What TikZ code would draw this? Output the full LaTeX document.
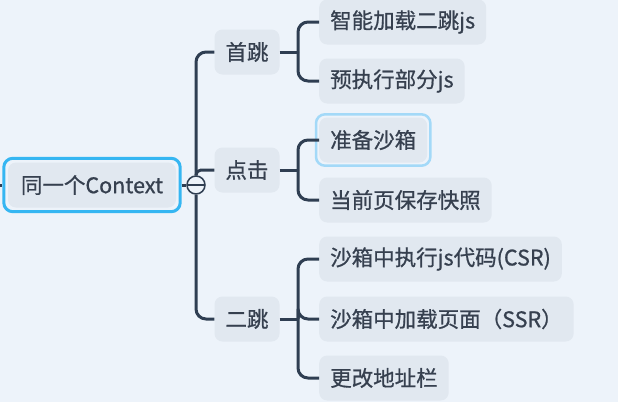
\documentclass[tikz,border=0pt]{standalone}
\usepackage{fontspec}
\setmainfont[FakeBold=0.8]{Noto Sans CJK SC}
\usepackage{tikz}
\usetikzlibrary{positioning,fit}
\definecolor{bgcol}{HTML}{EDF3FA}
\definecolor{boxcol}{HTML}{E1E8F0}
\definecolor{linecol}{HTML}{2F3E52}
\definecolor{txtcol}{HTML}{36404F}
\definecolor{ringcol}{HTML}{35B6F2}
\definecolor{softring}{HTML}{A3D9F8}
\tikzstyle{topic}=[fill=boxcol, text=txtcol, rounded corners=8pt, minimum height=45pt, inner xsep=11pt, font=\fontsize{21.5}{25}\selectfont]
\tikzstyle{subtopic}=[topic, anchor=west]
\tikzstyle{ring}=[draw=ringcol, line width=3pt, rounded corners=9pt, inner sep=4pt]
\tikzstyle{link}=[draw=linecol, line width=3pt, rounded corners=10pt]
\tikzstyle{fold}=[circle, draw=linecol, fill=bgcol, line width=1.5pt, minimum size=18pt, inner sep=0pt]

\begin{document}
\begin{tikzpicture}[x=1pt, y=-1pt]
    % background and frame
    \fill[bgcol] (0,0) rectangle (618,402);
    \useasboundingbox (0,0) rectangle (618,402);

    % root topic
    \node[topic, minimum width=168pt] (root) at (92,185) {同一个Context};
    \node[ring, fit=(root)] (rootring) {};
    \coordinate (lstub) at (0,185);
    \draw[link] (lstub) -- (rootring.west);
    \node[fold] (fold) at (196,185) {};
    \draw[link] (rootring.east) -- (fold.west);
    \draw[draw=linecol, line width=1.5pt] ([xshift=2pt]fold.west) -- ([xshift=-2pt]fold.east);

    % main branches
    \foreach \pos/\name/\txt in {{(247,52)/shou/首跳}, {(247,170)/dian/点击}, {(247,319)/erti/二跳}}
        \node[topic, minimum width=60pt] (\name) at \pos {\txt};
    \draw[link] (fold.north) |- (shou.west);
    \draw[link, rounded corners=5pt] (fold.north) |- (dian.west);
    \draw[link] (fold.south) |- (erti.west);

    % sub topics
    \foreach \y/\name/\txt in {22/zhi/{智能加载二跳js}, 81/yu/{预执行部分js}, 140/zhun/{准备沙箱}, 200/dang/{当前页保存快照}, 259/csr/{沙箱中执行js代码(CSR)}, 319/ssr/{沙箱中加载页面（SSR）}, 378/geng/{更改地址栏}}
        \node[subtopic] (\name) at (319,\y) {\txt};
    \node[ring, draw=softring, line width=2.5pt, inner sep=3pt, fit=(zhun)] (zhunring) {};

    % brackets from branch to sub topics
    \foreach \parent/\y in {shou/52, dian/170, erti/319} {
        \coordinate (j\parent) at (298,\y);
        \draw[link] (\parent.east) -- (j\parent);
    }
    \foreach \parent/\dest in {shou/zhi, shou/yu, dian/zhun, dian/dang, erti/csr, erti/ssr, erti/geng}
        \draw[link] (j\parent) |- (\dest.west);

\end{tikzpicture}
\end{document}
